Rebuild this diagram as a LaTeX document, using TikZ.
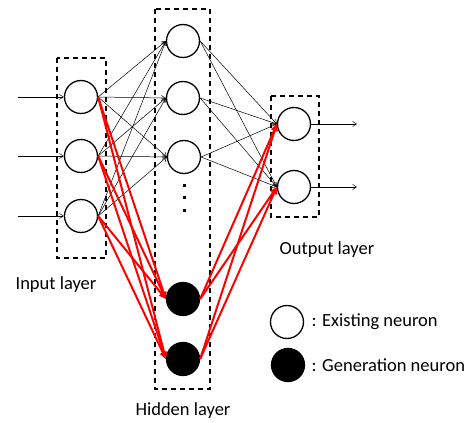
\documentclass[tikz,border=0pt]{standalone}
\usepackage{fontspec}
\setmainfont{Carlito}
\usetikzlibrary{arrows.meta,positioning}
\tikzset{
    %Define standard arrow tip
    >={Straight Barb[length=4pt,width=5pt]},
    %Define style for neurons
    neuron/.style={
           circle,
           draw=black, line width=1.3pt,
           minimum size=33pt,
           inner sep=0pt},
    genneuron/.style={
           neuron,
           fill=black},
    layerbox/.style={
           draw=black, line width=1.3pt,
           dash pattern=on 5pt off 4pt},
    % Define connector styles
    link/.style={
           ->,
           line width=0.5pt},
    genlink/.style={
           -{Triangle[length=7pt,width=6pt]},
           draw=red,
           line width=2pt},
    label/.style={
           font=\fontsize{18.5}{20}\selectfont}
}
\begin{document}
\begin{tikzpicture}[x=1pt,y=-1pt]
\useasboundingbox (0,0) rectangle (475,423);

 %boxes
\draw[layerbox] (57,58) rectangle (106,258);
\draw[layerbox] (155,9) rectangle (210,389);
\draw[layerbox] (271,96) rectangle (319,217);

 %nodes
\node[neuron](i1) at (81,97){};
\node[neuron](i2) at (81,156){};
\node[neuron](i3) at (81,216){};
\node[neuron](h1) at (183,41){};
\node[neuron](h2) at (183,98){};
\node[neuron](h3) at (184,157){};
\node[genneuron](g1) at (183,299){};
\node[genneuron](g2) at (183,359){};
\node[neuron](o1) at (294,124){};
\node[neuron](o2) at (294,187){};

\coordinate (in1) at (18,97);
\coordinate (in2) at (18,156);
\coordinate (in3) at (18,216);
\coordinate (out1) at (357,124);
\coordinate (out2) at (357,187);

 %dots
\foreach \y in {185,197,210}
    \fill (182.5,\y-1.5) rectangle (185.5,\y+1.5);

 %connections
\path[link]
    (in1) edge (i1.west)
    (in2) edge (i2.west)
    (in3) edge (i3.west)
    (o1.east) edge (out1)
    (o2.east) edge (out2);
\foreach \i in {1,2,3}{
  \foreach \h in {1,2,3}
    \draw[link] (i\i.east) -- (h\h.west);
  \foreach \o in {1,2}
    \draw[link] (h\i.east) -- (o\o.west);
}
\foreach \i in {1,2,3}
  \foreach \g in {1,2}
    \draw[genlink] (i\i.east) -- (g\g.west);
\foreach \g in {1,2}
  \foreach \o in {1,2}
    \draw[genlink] (g\g.east) -- (o\o.west);

 %labels
\node[label](inlab) at (56,285){Input layer};
\node[label](hidlab) at (183,411){Hidden layer};
\node[label](outlab) at (327,250){Output layer};

 %legend
\node[neuron](lex) at (287,322){};
\node[genneuron](lgen) at (288,365){};
\node[label, right=4pt of lex](lextxt){: Existing neuron};
\node[label, right=3pt of lgen](lgentxt){: Generation neuron};
\end{tikzpicture}
\end{document}
